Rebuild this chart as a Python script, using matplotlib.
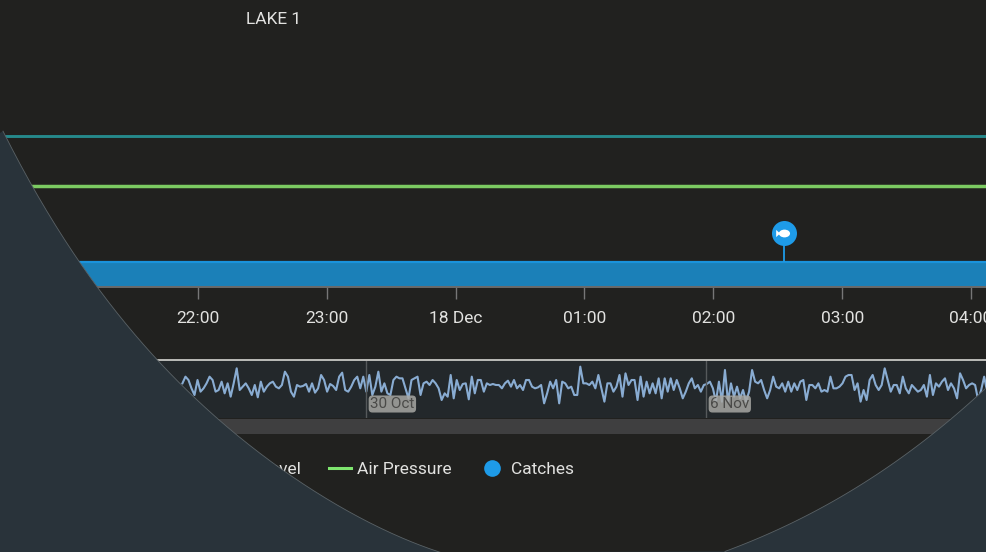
import numpy as np
import matplotlib
matplotlib.use('Agg')
import matplotlib.pyplot as plt
from matplotlib.patches import Polygon
from matplotlib.path import Path

plt.rcParams['font.family'] = ['Roboto', 'DejaVu Sans']

# -------------------- data --------------------
title = 'LAKE 1'
tick_hours = [-2, -1, 0, 1, 2, 3, 4]
tick_labels = ['22:00', '23:00', '18 Dec', '01:00', '02:00', '03:00', '04:00']

line_hours = [-4, 0, 5]
water_level = [151, 151, 151]
air_pressure = [101, 101, 101]
band_top = [25, 25, 25]
catch_hours = [2.55]
catch_level = [54]

nav_tick_hours = [0, 168]
nav_tick_labels = ['30 Oct', '6 Nov']

# navigator trace (larger = lower on screen)
nav_depth = [
    70, 50, 60, 85, 105, 60, 95, 85, 70, 50, 60, 95, 90, 65, 100, 70, 110, 70, 25, 90,
    80, 70, 85, 105, 75, 112, 65, 95, 80, 70, 65, 80, 85, 75, 35, 50, 95, 110, 75, 80,
    78, 72, 95, 70, 98, 85, 45, 60, 95, 72, 78, 90, 50, 38, 90, 95, 80, 60, 50, 85,
    50, 95, 45, 105, 80, 35, 95, 70,
    100, 105, 60, 50, 55, 55, 85, 115, 60, 55, 50, 105, 70, 65, 75, 60, 70, 85, 120, 100,
    110, 45, 115, 60, 90, 72, 70, 118, 50, 100, 60, 60, 95, 70, 75, 72, 75, 75, 85, 70,
    62, 80, 60, 85, 75, 90, 60, 60, 80, 85, 82, 75, 130, 100, 65, 85, 60, 130, 65, 70,
    85, 80, 105, 105, 20, 70, 70, 75, 65,
    85, 45, 85, 125, 70, 70, 95, 80, 45, 110, 40, 75, 60, 60, 120, 50, 110, 65, 100, 70,
    100, 55, 115, 55, 95, 55, 90, 60, 85, 115, 95, 70, 55, 85, 75, 95, 75, 72, 65, 85,
    125, 65, 125, 30, 125, 70, 110, 80, 115, 90, 125, 95, 30, 65, 70, 60, 90, 115, 90, 50,
    80, 85, 70, 95, 65, 95, 70, 90, 65,
    60, 120, 75, 75, 85, 70, 95, 90, 95, 50, 85, 85, 80, 70, 50, 45, 45, 90, 70, 125,
    90, 120, 60, 45, 75, 90, 75, 25, 60, 95, 75, 75, 100, 50, 85, 100, 75, 85, 95, 90,
    75, 110, 45, 105, 70, 80, 65, 55, 90, 70, 85, 115, 40, 60, 85, 75, 70, 75, 120, 90,
    50, 95, 75, 70,
]

legend_labels = ['Water Level', 'Air Pressure', 'Catches']

# -------------------- layout helpers --------------------
W, H = 986, 552
BG = '#21211f'
COVER = '#29333a'
TEAL = '#26898b'
GREEN = '#7ccb62'
BLUE = '#1e9be8'
TXT = '#e2e2e0'


def px_axes(left, top, right, bottom, **kw):
    return fig.add_axes([left / W, 1 - bottom / H, (right - left) / W, (bottom - top) / H], **kw)


fig = plt.figure(figsize=(W / 100, H / 100), dpi=100, facecolor=BG)

# -------------------- main chart --------------------
ax = px_axes(0, 0, W, 287, facecolor=BG)
px_per_hour = 128.83
ax.set_xlim(-2 - 198 / px_per_hour, -2 + (W - 198) / px_per_hour)
ax.set_ylim(0, 287)
ax.plot(line_hours, water_level, color=TEAL, lw=2.1)
ax.plot(line_hours, air_pressure, color=GREEN, lw=2.5)
ax.fill_between(line_hours, 0, band_top, color='#1b80b8', lw=0)
ax.plot(line_hours, band_top, color='#1a93dc', lw=1.6)

# pin with a small fish on it
ax.vlines(catch_hours, band_top[0], catch_level, color=BLUE, lw=1.3)
ax.plot(catch_hours, catch_level, 'o', ms=18, color=BLUE, mew=0)
body = Path.unit_circle().transformed(matplotlib.transforms.Affine2D().scale(1, 0.7))
tail = Path([(-0.8, 0), (-1.5, 0.65), (-1.5, -0.65), (-0.8, 0)],
            [Path.MOVETO, Path.LINETO, Path.LINETO, Path.CLOSEPOLY])
fish = Path.make_compound_path(body, tail)
ax.plot(catch_hours, catch_level, marker=fish, ms=12, color='white', mew=0)

for side in ['top', 'left', 'right']:
    ax.spines[side].set_visible(False)
ax.spines['bottom'].set_color('#6a6a6a')
ax.spines['bottom'].set_linewidth(1.4)
ax.set_yticks([])
ax.set_xticks(tick_hours)
ax.set_xticklabels(tick_labels)
ax.tick_params(axis='x', length=8.6, width=1, color='#777777', labelcolor=TXT,
               labelsize=12.5, pad=8.5)

# -------------------- navigator --------------------
nav = px_axes(0, 360, W, 418, facecolor='#23282b')
nav.set_xlim(-366 * 168 / 340, (W - 366) * 168 / 340)
nav.set_ylim(174, 0)
nav_hours = np.linspace(-90.7, 610 * 168 / 340 + 8.5, len(nav_depth))
nav.plot(nav_hours, nav_depth, color='#8fb4dc', lw=1.5, alpha=0.95)
nav.vlines(nav_tick_hours, 0, 174, color='#55595b', lw=1)
for h, lab in zip(nav_tick_hours, nav_tick_labels):
    nav.annotate(lab, (h, 132), xytext=(3, 0), textcoords='offset points', va='center',
                 fontsize=11, color='#4a4a48', zorder=5,
                 bbox=dict(boxstyle='round,pad=0.1,rounding_size=0.25', fc='#a8a8a4', ec='none', alpha=0.85))
for side in ['left', 'right', 'bottom']:
    nav.spines[side].set_visible(False)
nav.spines['top'].set_color('#c8c8c4')
nav.spines['top'].set_linewidth(1.3)
nav.set_xticks([])
nav.set_yticks([])

bar = px_axes(0, 419, W, 434, facecolor='#3f3f40')
bar.set_xticks([])
bar.set_yticks([])
for s in bar.spines.values():
    s.set_visible(False)

# -------------------- title, legend, cover --------------------
top = px_axes(0, 0, W, H, facecolor='none', zorder=10)
top.set_xlim(0, W)
top.set_ylim(H, 0)
top.axis('off')
top.text(274, 19, title, ha='center', va='center', color=TXT, fontsize=12.5)
top.text(301, 469, legend_labels[0], ha='right', va='center', color=TXT, fontsize=12.5)
top.plot([329, 351], [468, 468], color='#7fe66f', lw=2.2)
top.text(357, 469, legend_labels[1], ha='left', va='center', color=TXT, fontsize=12.5)
top.plot([492], [468], 'o', ms=12, color=BLUE, mew=0)
top.text(511, 469, legend_labels[2], ha='left', va='center', color=TXT, fontsize=12.5)

# the dark slate shape lying over the chart corners, smoothed with a polynomial
left_x = [3, 34, 79, 97, 107, 133, 160, 175, 195, 217, 240, 270, 300, 350, 400, 440]
left_y = [133, 186, 261, 287, 300, 335, 363, 379, 397, 419, 436, 458, 484, 513, 537, 552]
right_x = [725, 767, 833, 883, 930, 953, 986]
right_y = [552, 533, 503, 470, 435, 418, 388]
lx = np.linspace(3, 440, 200)
rx = np.linspace(725, 986, 120)
ly = np.polyval(np.polyfit(left_x, left_y, 4), lx)
ry = np.polyval(np.polyfit(right_x, right_y, 3), rx)
ex = np.concatenate([lx, rx])
ey = np.concatenate([ly, ry])
cover = list(zip(ex, ey)) + [(986, 552), (0, 552), (0, 133)]
top.add_patch(Polygon(cover, closed=True, fc=COVER, ec='none', zorder=6))
top.plot(lx, ly, color='#5a6266', lw=0.6, zorder=7)
top.plot(rx, ry, color='#5a6266', lw=0.6, zorder=7)

fig.savefig('out.png', dpi=100, facecolor=BG)
